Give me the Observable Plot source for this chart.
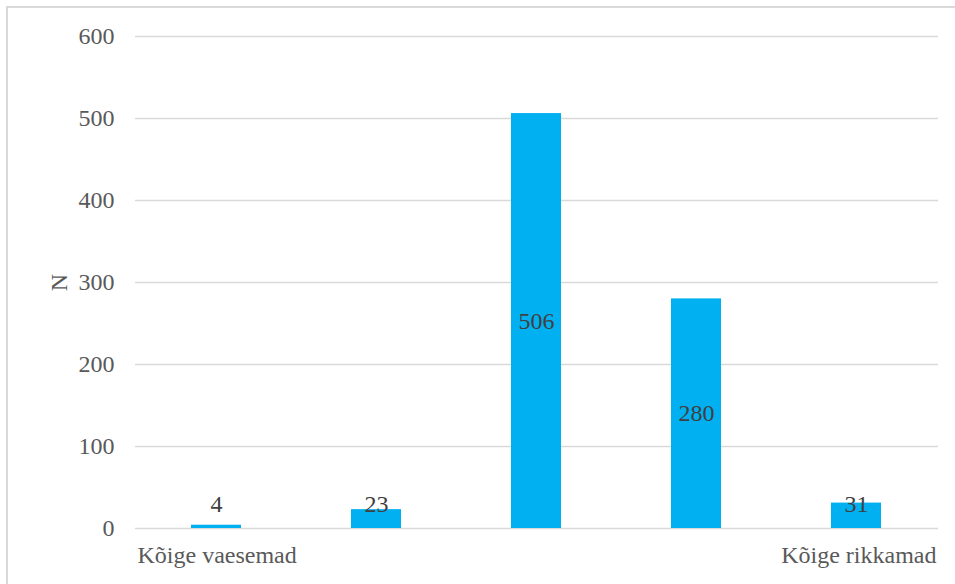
<!DOCTYPE html>
<html>
<head>
<meta charset="utf-8">
<script src="https://cdn.jsdelivr.net/npm/d3@7"></script>
<script src="https://cdn.jsdelivr.net/npm/@observablehq/plot@0.6"></script>
<style>
  html, body { margin: 0; padding: 0; background: #fff; }
  #wrap { position: relative; width: 955px; height: 584px; overflow: hidden; }
  #wrap svg text { font-family: "Liberation Serif", serif !important; }
  #edge { position: absolute; left: 6px; top: 6px; width: 1000px; height: 700px;
          border-left: 2px solid #d9d9d9; border-top: 2px solid #d9d9d9; pointer-events: none; }
</style>
</head>
<body>
<div id="wrap"><div id="edge"></div></div>
<script>
// Income groups, poorest to richest, and respondent counts
const groups = ["1", "2", "3", "4", "5"];
const counts = [4, 23, 506, 280, 31];
const groupLabels = ["Kõige vaesemad", "", "", "", "Kõige rikkamad"];
const yTicks = [0, 100, 200, 300, 400, 500, 600];
const yTitle = "N";

const rows = groups.map((g, i) => ({group: g, n: counts[i]}));
const font = "Liberation Serif";

const chart = Plot.plot({
  width: 955,
  height: 584,
  marginLeft: 135,
  marginRight: 17,
  marginTop: 36,
  marginBottom: 56,
  style: "font-family: 'Liberation Serif', serif; background: transparent; position: absolute; left: 0; top: 0;",
  x: {domain: groups, paddingInner: 0.686, paddingOuter: 0.343, axis: null},
  y: {domain: [0, 600], axis: null},
  marks: [
    Plot.gridY(yTicks, {stroke: "#d9d9d9", strokeOpacity: 1, strokeWidth: 1.4}),
    Plot.axisY(yTicks, {tickSize: 0, tickPadding: 21, fontSize: 24, fill: "#595959", label: null}),
    Plot.barY(rows, {x: "group", y: "n", fill: "#00b0f0"}),
    // value labels sit mid-bar, lifted above the axis for short bars
    Plot.text(rows, {
      x: "group",
      y: d => Math.max(d.n / 2, 29),
      text: d => String(d.n),
      fontFamily: font,
      fontSize: 24,
      fill: "#404040"
    }),
    Plot.text([groupLabels[0]], {
      frameAnchor: "bottom-left", textAnchor: "start", lineAnchor: "middle",
      dx: 2, dy: 27, fontFamily: font, fontSize: 24, fill: "#595959"
    }),
    Plot.text([groupLabels[groupLabels.length - 1]], {
      frameAnchor: "bottom-right", textAnchor: "end", lineAnchor: "middle",
      dx: -2, dy: 27, fontFamily: font, fontSize: 24, fill: "#595959"
    }),
    Plot.text([yTitle], {
      frameAnchor: "left", textAnchor: "middle", lineAnchor: "middle",
      rotate: -90, dx: -76, fontFamily: font, fontSize: 24, fill: "#595959"
    })
  ]
});
document.getElementById("wrap").appendChild(chart);
</script>
</body>
</html>
